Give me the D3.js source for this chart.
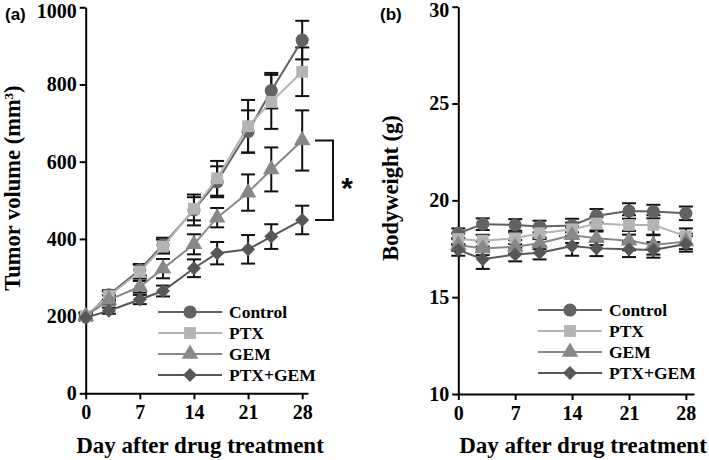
<!DOCTYPE html>
<html><head><meta charset="utf-8">
<script src="https://cdn.jsdelivr.net/npm/d3@7"></script>
<style>body{margin:0;background:#fff;} svg{display:block;}</style>
</head><body>
<svg id="c" width="709" height="460"></svg>
<script>
const days = [0, 3, 7, 10, 14, 17, 21, 24, 28];
const seriesNames = ["Control", "PTX", "GEM", "PTX+GEM"];
const xTicks = [0, 7, 14, 21, 28];
const tumorTicks = [0, 200, 400, 600, 800, 1000];
const weightTicks = [10, 15, 20, 25, 30];

// Panel (a): tumor volume (mm3)
const tumorControl = [198, 255, 320, 385, 475, 548, 678, 784, 915];
const tumorControlErr = [10, 12, 15, 18, 40, 40, 55, 46, 50];
const tumorPTX = [200, 252, 315, 380, 478, 557, 692, 755, 833];
const tumorPTXErr = [10, 12, 18, 18, 30, 45, 68, 70, 63];
const tumorGEM = [200, 242, 276, 323, 386, 455, 520, 580, 655];
const tumorGEMErr = [8, 12, 15, 25, 26, 25, 47, 57, 78];
const tumorCombo = [196, 214, 243, 265, 324, 363, 373, 406, 449];
const tumorComboErr = [6, 8, 12, 14, 23, 29, 37, 32, 37];

// Panel (b): body weight (g)
const weightControl = [18.3, 18.77, 18.73, 18.65, 18.7, 19.2, 19.45, 19.42, 19.33];
const weightControlErr = [0.25, 0.3, 0.3, 0.3, 0.35, 0.35, 0.4, 0.35, 0.35];
const weightPTX = [18.0, 17.92, 18.04, 18.3, 18.5, 18.8, 18.73, 18.73, 18.15];
const weightPTXErr = [0.3, 0.3, 0.3, 0.3, 0.35, 0.35, 0.5, 0.5, 0.4];
const weightGEM = [17.7, 17.52, 17.6, 17.78, 18.2, 18.04, 17.92, 17.7, 17.88];
const weightGEMErr = [0.3, 0.35, 0.35, 0.3, 0.4, 0.35, 0.5, 0.5, 0.4];
const weightCombo = [17.44, 16.96, 17.2, 17.3, 17.64, 17.52, 17.47, 17.44, 17.75];
const weightComboErr = [0.3, 0.5, 0.35, 0.35, 0.5, 0.4, 0.4, 0.4, 0.4];

const colors = ["#626262", "#b4b4b4", "#888888", "#575757"];
const symbols = [
  {type: d3.symbolCircle, size: 135, rot: 0},
  {type: d3.symbolSquare, size: 140, rot: 0},
  {type: d3.symbolTriangle, size: 120, rot: 0},
  {type: d3.symbolSquare, size: 98, rot: 45}
];
const serif = "'Liberation Serif','Times New Roman',serif";
const sans = "'Liberation Sans',Arial,sans-serif";

const svg = d3.select("#c");

function panel(opts) {
  const g = svg.append("g");
  const x = d3.scaleLinear().domain([0, opts.xMax]).range(opts.xRange);
  const y = d3.scaleLinear().domain(opts.yDomain).range(opts.yRange);

  // axes
  const xa = g.append("g").attr("transform", `translate(0,${opts.yRange[0]})`)
    .call(d3.axisBottom(x).tickValues(xTicks).tickFormat(d3.format("d"))
      .tickSize(6).tickSizeOuter(0).tickPadding(6));
  const ya = g.append("g").attr("transform", `translate(${opts.xRange[0]},0)`)
    .call(d3.axisLeft(y).tickValues(opts.yTicks).tickFormat(d3.format("d"))
      .tickSize(6).tickSizeOuter(0).tickPadding(3));
  [xa, ya].forEach(a => {
    a.select(".domain").attr("stroke", "#000").attr("stroke-width", 2);
    a.selectAll(".tick line").attr("stroke", "#000").attr("stroke-width", 2);
    a.selectAll(".tick text").attr("fill", "#000").style("font-family", serif)
      .style("font-weight", "bold").style("font-size", "20px");
  });
  // keep the topmost tick label inside the picture
  ya.selectAll(".tick text").filter(d => d === opts.yDomain[1]).attr("dy", "0.5em");

  // error bars
  opts.series.forEach((s, i) => {
    const eg = g.append("g");
    days.forEach((d, k) => {
      const y1 = y(s.v[k] + s.e[k]), y2 = y(s.v[k] - s.e[k]), cx = x(d);
      eg.append("line").attr("x1", cx).attr("x2", cx).attr("y1", y1).attr("y2", y2)
        .attr("stroke", "#111").attr("stroke-width", 2);
      [y1, y2].forEach(yy => eg.append("line").attr("x1", cx - 7).attr("x2", cx + 7)
        .attr("y1", yy).attr("y2", yy).attr("stroke", "#111").attr("stroke-width", 2));
    });
  });
  // lines + markers
  opts.series.forEach((s, i) => {
    const pts = days.map((d, k) => ({d, v: s.v[k]}));
    g.append("path").datum(pts)
      .attr("d", d3.line().x(p => x(p.d)).y(p => y(p.v)))
      .attr("fill", "none").attr("stroke", colors[i]).attr("stroke-width", 2);
    const sym = symbols[i];
    g.selectAll(null).data(pts).enter().append("path")
      .attr("d", d3.symbol().type(sym.type).size(sym.size))
      .attr("transform", p => `translate(${x(p.d)},${y(p.v)}) rotate(${sym.rot})`)
      .attr("fill", colors[i]);
  });

  // legend
  const lg = g.append("g");
  seriesNames.forEach((n, i) => {
    const yy = opts.legY + i * 21;
    lg.append("line").attr("x1", opts.legX).attr("x2", opts.legX + 64)
      .attr("y1", yy).attr("y2", yy).attr("stroke", colors[i]).attr("stroke-width", 2);
    const sym = symbols[i];
    lg.append("path").attr("d", d3.symbol().type(sym.type).size(sym.size))
      .attr("transform", `translate(${opts.legX + 32},${yy}) rotate(${sym.rot})`)
      .attr("fill", colors[i]);
    lg.append("text").attr("x", opts.legX + 71).attr("y", yy + 6).text(n)
      .style("font-family", serif).style("font-weight", "bold").style("font-size", "17.5px");
  });

  // titles
  g.append("text").attr("x", opts.xTitleX).attr("y", 453).attr("text-anchor", "middle")
    .style("font-family", serif).style("font-weight", "bold").style("font-size", "23px")
    .text("Day after drug treatment");
  const yt = g.append("text").attr("transform", `translate(${opts.yTitleX},188) rotate(-90)`)
    .attr("text-anchor", "middle")
    .style("font-family", serif).style("font-weight", "bold").style("font-size", "22.5px");
  opts.yTitle(yt);
  g.append("text").attr("x", opts.labX).attr("y", 20).text(opts.label)
    .style("font-family", sans).style("font-weight", "bold").style("font-size", "17px");
  return {g, x, y};
}

const A = panel({
  xMax: 28.75, xRange: [85.7, 308], yDomain: [0, 1000], yRange: [393.3, 7.3], yTicks: tumorTicks,
  series: [
    {v: tumorControl, e: tumorControlErr}, {v: tumorPTX, e: tumorPTXErr},
    {v: tumorGEM, e: tumorGEMErr}, {v: tumorCombo, e: tumorComboErr}
  ],
  legX: 158, legY: 312, xTitleX: 200, yTitleX: 20, labX: 5, label: "(a)",
  yTitle: t => { t.append("tspan").text("Tumor volume (mm");
    t.append("tspan").text("3").attr("dy", -7).style("font-size", "13px");
    t.append("tspan").text(")").attr("dy", 7); }
});

// significance bracket
const bx = 333, yTop = A.y(tumorGEM[8]), yBot = A.y(tumorCombo[8]);
A.g.append("path").attr("d", `M${bx - 18},${yTop}H${bx}V${yBot}H${bx - 18}`)
  .attr("fill", "none").attr("stroke", "#111").attr("stroke-width", 2);
A.g.append("text").attr("x", 347).attr("y", 198).attr("text-anchor", "middle").text("*")
  .style("font-family", sans).style("font-weight", "bold").style("font-size", "30px");

panel({
  xMax: 29, xRange: [458.3, 694], yDomain: [10, 30], yRange: [394, 6.7], yTicks: weightTicks,
  series: [
    {v: weightControl, e: weightControlErr}, {v: weightPTX, e: weightPTXErr},
    {v: weightGEM, e: weightGEMErr}, {v: weightCombo, e: weightComboErr}
  ],
  legX: 538, legY: 310, xTitleX: 583, yTitleX: 398, labX: 380, label: "(b)",
  yTitle: t => t.text("Bodyweight (g)")
});
</script>
</body></html>
